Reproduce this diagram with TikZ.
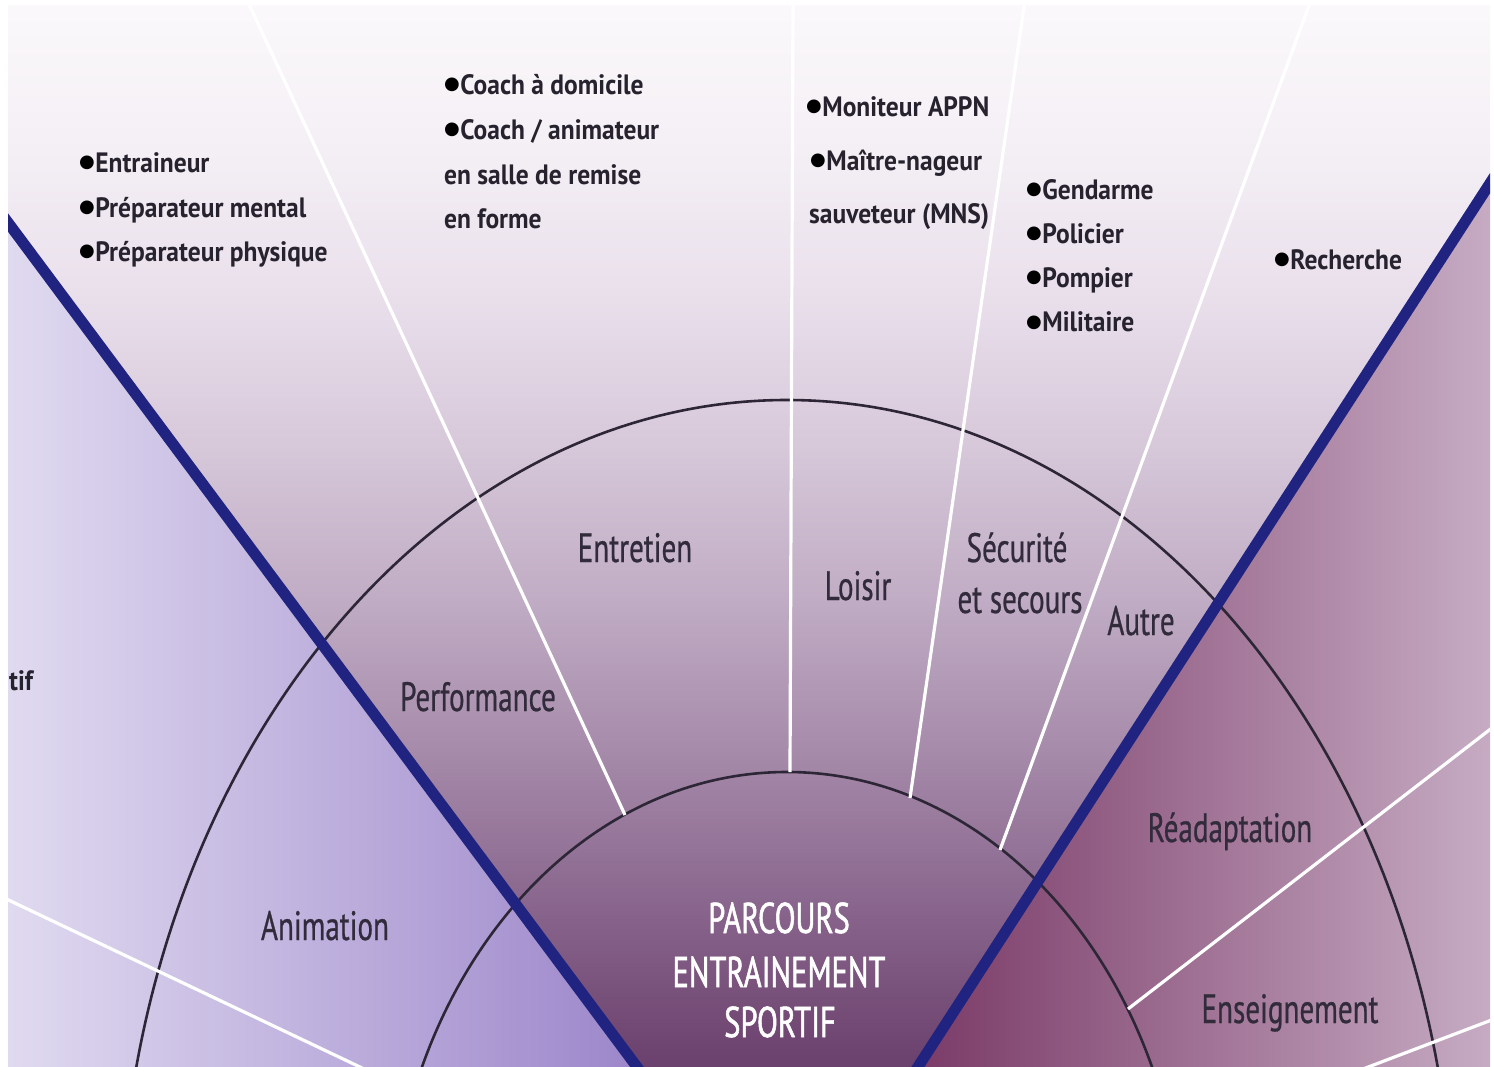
\documentclass[tikz,border=0pt]{standalone}
\usepackage{fontspec}
\newfontfamily\bulfont{PT Sans}[FakeStretch=0.91]
\newfontfamily\labfont{PT Sans}[FakeStretch=0.71,FakeBold=0.6]
\newfontfamily\ctrfont{PT Sans}[FakeStretch=0.71,FakeBold=1.2]
\newfontfamily\symfont{DejaVu Sans}
\newcommand\mybul{\textcolor{black}{\raisebox{5pt}{\symfont\fontsize{18}{18}\selectfont ●}}\hspace{0.5pt}}
\definecolor{bluel}{RGB}{32,36,128}
\definecolor{arcc}{RGB}{45,38,55}
\definecolor{txt}{RGB}{50,43,60}
\definecolor{bult}{RGB}{38,34,46}
\definecolor{g0}{HTML}{FBF9FB}
\definecolor{g1}{HTML}{F4EFF5}
\definecolor{g2}{HTML}{E9DFEB}
\definecolor{g3}{HTML}{D6C7D9}
\definecolor{g4}{HTML}{C0ACC4}
\definecolor{g5}{HTML}{A68BAA}
\definecolor{g6}{HTML}{8A678E}
\definecolor{g7}{HTML}{6A406C}
\definecolor{lw1}{HTML}{E0DAF0}
\definecolor{lw2}{HTML}{9C86CA}
\definecolor{rw1}{HTML}{7A3A67}
\definecolor{rw2}{HTML}{C6ABC3}
\begin{document}
\begin{tikzpicture}[x=1pt,y=-1pt,
  bul/.style={anchor=base west, inner sep=0pt, font=\bulfont\bfseries\fontsize{28}{34}\selectfont, text=bult},
  lab/.style={anchor=base, inner sep=0pt, font=\labfont\fontsize{41}{48}\selectfont, text=txt},
  ctr/.style={anchor=base, inner sep=0pt, font=\ctrfont\fontsize{43}{50}\selectfont, text=white},
  arcline/.style={draw=arcc, line width=2.6pt},
  wline/.style={draw=white, line width=3.2pt},
  bline/.style={draw=bluel, line width=11pt}]
\useasboundingbox (0,0) rectangle (1494,1067);
\fill[white] (0,0) rectangle (1494,1067);
\coordinate (L1) at (-195,-50);
\coordinate (L2) at (783,1263);
\coordinate (R1) at (1641,-50);
\coordinate (R2) at (791,1263);
\coordinate (C) at (787,1263);
\begin{scope}
\clip (8,6) rectangle (1490,1067);
% centre sector
\begin{scope}
\clip (L1) -- (R1) -- (R2) -- (L2) -- cycle;
\shade[top color=g0,bottom color=g1] (0,-1) rectangle (1494,150.5);
\shade[top color=g1,bottom color=g2] (0,149.5) rectangle (1494,300.5);
\shade[top color=g2,bottom color=g3] (0,299.5) rectangle (1494,450.5);
\shade[top color=g3,bottom color=g4] (0,449.5) rectangle (1494,600.5);
\shade[top color=g4,bottom color=g5] (0,599.5) rectangle (1494,750.5);
\shade[top color=g5,bottom color=g6] (0,749.5) rectangle (1494,900.5);
\shade[top color=g6,bottom color=g7] (0,899.5) rectangle (1494,1068);
\end{scope}
% left wedge
\begin{scope}
\clip (-300,-50) -- (L1) -- (L2) -- (-300,1263) -- cycle;
\shade[left color=lw1,right color=lw2] (8,0) rectangle (640,1067);
\end{scope}
% right wedge
\begin{scope}
\clip (R1) -- (1800,-50) -- (1800,1263) -- (R2) -- cycle;
\shade[left color=rw1,right color=rw2] (915,0) rectangle (1490,1067);
\end{scope}
% arcs
\draw[arcline] (C) ellipse [x radius=398pt, y radius=491pt];
\draw[arcline] (C) ellipse [x radius=668pt, y radius=863pt];
% white radial lines
\coordinate (w1a) at (247,0);   \coordinate (w1b) at (625,815);
\coordinate (w2a) at (793,0);   \coordinate (w2b) at (790,772);
\coordinate (w3a) at (1025,0);  \coordinate (w3b) at (910,798);
\coordinate (w4a) at (1311,0);  \coordinate (w4b) at (1000,850);
\coordinate (w5a) at (1128,1009); \coordinate (w5b) at (1510,714);
\coordinate (w6a) at (1300,1093); \coordinate (w6b) at (1510,1013);
\coordinate (w7a) at (0,896);   \coordinate (w7b) at (400,1086);
\draw[wline] (w1a) -- (w1b);
\draw[wline] (w2a) -- (w2b);
\draw[wline] (w3a) -- (w3b);
\draw[wline] (w4a) -- (w4b);
\draw[wline] (w5a) -- (w5b);
\draw[wline] (w6a) -- (w6b);
\draw[wline] (w7a) -- (w7b);
% blue lines
\draw[bline] (L1) -- (L2);
\draw[bline] (R1) -- (R2);
\end{scope}
% bullet texts
\node[bul] (t1) at (79,173) {\mybul Entraineur};
\node[bul] (t2) at (79,217.5) {\mybul Préparateur mental};
\node[bul] (t3) at (79,262) {\mybul Préparateur physique};
\node[bul] (c1) at (444,95) {\mybul Coach à domicile};
\node[bul] (c2) at (444,140) {\mybul Coach / animateur};
\node[bul] (c3) at (444,185) {en salle de remise};
\node[bul] (c4) at (444,229) {en forme};
\node[bul] (m1) at (806,117) {\mybul Moniteur APPN};
\node[bul] (m2) at (810,171) {\mybul Maître-nageur};
\node[bul] (m3) at (809,224) {sauveteur (MNS)};
\node[bul] (g1n) at (1026,200) {\mybul Gendarme};
\node[bul] (g2n) at (1026,244) {\mybul Policier};
\node[bul] (g3n) at (1026,288) {\mybul Pompier};
\node[bul] (g4n) at (1026,332) {\mybul Militaire};
\node[bul] (r1) at (1274,270) {\mybul Recherche};
\node[bul] (tif) at (9,690) {tif};
% ring labels
\node[lab] (entretien) at (635,562) {Entretien};
\node[lab] (perf) at (478,711) {Performance};
\node[lab] (loisir) at (858,600) {Loisir};
\node[lab] (secu) at (1017,562) {Sécurité};
\node[lab] (secu2) at (1020,613) {et secours};
\node[lab] (autre) at (1141,635) {Autre};
\node[lab] (readapt) at (1230,842) {Réadaptation};
\node[lab] (enseig) at (1290,1023) {Enseignement};
\node[lab] (anim) at (325,940) {Animation};
% centre
\node[ctr] (p1) at (779,933) {PARCOURS};
\node[ctr] (p2) at (779,987) {ENTRAINEMENT};
\node[ctr] (p3) at (780,1037) {SPORTIF};
\end{tikzpicture}
\end{document}
